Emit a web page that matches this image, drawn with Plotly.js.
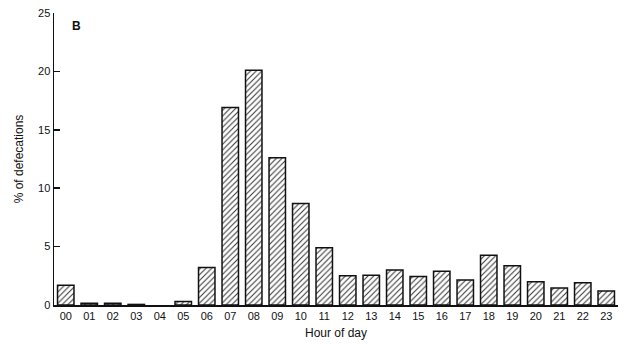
<!DOCTYPE html>
<html>
<head>
<meta charset="utf-8">
<script src="https://cdn.plot.ly/plotly-3.0.1.min.js"></script>
<style>html,body{margin:0;padding:0;background:#fff;}#chart{width:640px;height:347px;}</style>
</head>
<body>
<div id="chart"></div>
<script>
const hours = ["00","01","02","03","04","05","06","07","08","09","10","11","12","13","14","15","16","17","18","19","20","21","22","23"];
const percentDefecations = [1.7,0.15,0.15,0.05,0,0.3,3.2,16.9,20.1,12.6,8.7,4.9,2.5,2.55,3.0,2.45,2.9,2.15,4.25,3.35,2.0,1.45,1.9,1.2];
const yTicks = [0,5,10,15,20,25];

const trace = {
  type: "bar",
  x: hours,
  y: percentDefecations,
  width: 0.7,
  marker: {
    color: "#ffffff",
    line: {color: "#111111", width: percentDefecations.map(v => v > 0 ? 1.5 : 0)},
    pattern: {shape: "/", size: 4, solidity: 0.25, fgcolor: "#333333", bgcolor: "#ffffff"}
  },
  hoverinfo: "skip"
};

const fam = "Liberation Sans, Arial, sans-serif";

const layout = {
  width: 640, height: 347,
  margin: {l: 54, r: 22, t: 13, b: 42},
  paper_bgcolor: "#fff", plot_bgcolor: "#fff",
  showlegend: false,
  font: {family: fam, size: 11, color: "#111"},
  xaxis: {
    type: "category",
    range: [-0.5, 23.5],
    showline: true, linecolor: "#111", linewidth: 1.5,
    ticks: "", showgrid: false, zeroline: false,
    tickfont: {family: fam, size: 11, color: "#111"},
    title: {text: "Hour of day", font: {family: fam, size: 12, color: "#111"}, standoff: 8}
  },
  yaxis: {
    range: [0, 25],
    tickvals: yTicks,
    showline: true, linecolor: "#111", linewidth: 1.5,
    ticks: "inside", ticklen: 6, tickwidth: 1.5, tickcolor: "#111",
    showgrid: false, zeroline: false,
    tickfont: {family: fam, size: 11, color: "#111"},
    title: {text: "% of defecations", font: {family: fam, size: 12, color: "#111"}, standoff: 12}
  },
  annotations: [
    {text: "<b>B</b>", xref: "paper", yref: "paper", x: 0.04, y: 0.955, xanchor: "center", yanchor: "middle", showarrow: false, font: {family: fam, size: 12, color: "#111"}}
  ]
};

Plotly.newPlot("chart", [trace], layout, {staticPlot: true, displayModeBar: false});
</script>
</body>
</html>
